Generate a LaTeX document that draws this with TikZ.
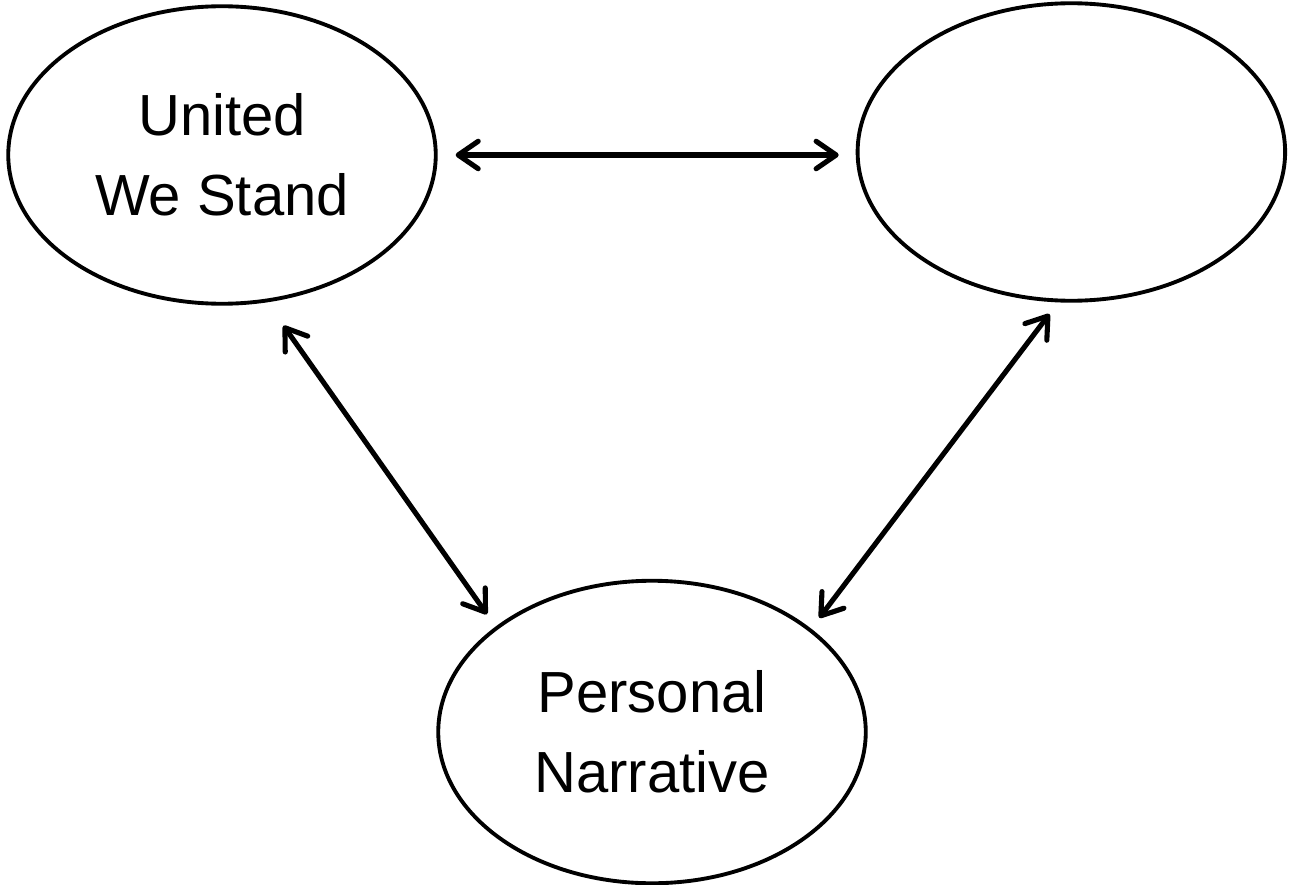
\documentclass[tikz,border=0pt]{standalone}
\usepackage{fontspec}
\setmainfont{Liberation Sans}
\usetikzlibrary{positioning,arrows.meta,shapes.geometric}

\begin{document}
\begin{tikzpicture}[
		bubble/.style={draw=black,line width=2.2pt,ellipse,minimum width=8.55cm,minimum height=5.95cm,inner sep=0pt,align=center,font=\fontsize{33}{45.5}\selectfont},
		link/.style={line width=2.9pt,line cap=round,{Straight Barb[length=0.4cm,width=0.55cm,line cap=round,line join=round]}-{Straight Barb[length=0.4cm,width=0.55cm,line cap=round,line join=round]}}
	]
		\useasboundingbox (0,0) rectangle (25.78,-17.7);
		\node[bubble] (usa) at (4.44,-3.1) {United\\We Stand};
		\node[bubble,right=8.36cm of usa,yshift=0.06cm] (blank) {};
		\node[bubble,minimum height=6.05cm,shift={(8.6,-11.54)}] (pn) at (usa.center) {Personal\\Narrative};
		
		\draw[link,shorten <=0.36cm,shorten >=0.34cm] (usa.east)--(usa.east -| blank.west);
		\draw[link,shorten <=0.57cm,shorten >=0.3cm] (usa.-73.5)--(pn.146.2);
		\draw[link,shorten <=0.29cm,shorten >=0.27cm] (blank.265.7)--(pn.33.2);
	\end{tikzpicture}
\end{document}
